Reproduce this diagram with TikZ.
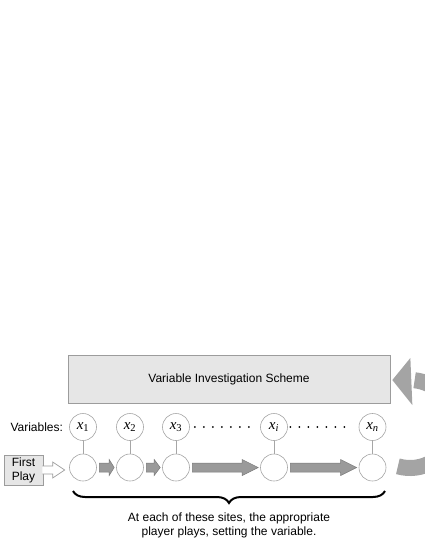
\documentclass[tikz,border=0pt]{standalone}
\usepackage{fontspec}
\setmainfont{Liberation Sans}
\newfontfamily\varfont{Liberation Serif}
\usepackage{xcolor}
\usetikzlibrary{calc,positioning,decorations.pathreplacing}

\definecolor{boxfill}{HTML}{E6E6E6}
\definecolor{boxline}{HTML}{9C9C9C}
\definecolor{siteline}{HTML}{A6A6A6}
\definecolor{flowfill}{HTML}{9A9A9A}
\definecolor{flowline}{HTML}{7A7A7A}
\definecolor{backfill}{HTML}{A4A4A4}

\newcommand{\varx}[1]{{\varfont\itshape x}{\varfont\textsubscript{#1}}}

\newcommand{\flow}[3]{%
	\draw[flow] let \p1=($(#1.east)+(2.5,0)$), \p2=($(#2.west)+(-2,0)$) in
		(\x1,\y1+4.5pt) -- (\x2-#3,\y1+4.5pt) -- (\x2-#3,\y1+8pt) -- (\x2,\y1)
		-- (\x2-#3,\y1-8pt) -- (\x2-#3,\y1-4.5pt) -- (\x1,\y1-4.5pt) -- cycle;}

\tikzset{
	every node/.style={font=\fontsize{12}{14}\selectfont},
	scheme/.style={draw=boxline, fill=boxfill, line width=0.7pt, minimum width=322pt, minimum height=48pt, inner sep=0pt},
	firstbox/.style={draw=boxline, fill=boxfill, line width=0.7pt, minimum width=39pt, minimum height=30pt, inner sep=0pt, align=center},
	site/.style={circle, draw=siteline, fill=white, line width=0.6pt, minimum size=27pt, inner sep=0pt, font=\fontsize{15}{18}\selectfont},
	link/.style={draw=siteline, line width=0.6pt},
	flow/.style={fill=flowfill, draw=flowline, line width=0.5pt},
	entry/.style={fill=white, draw=boxline, line width=0.7pt},
	sitebrace/.style={decorate, decoration={brace, mirror, amplitude=12pt}, line width=2pt},
	backarc/.style={draw=backfill, line width=16pt}
}

\begin{document}
\begin{tikzpicture}[x=1pt,y=-1pt]
	\useasboundingbox (0,0) rectangle (425,550);
	\clip (0,0) rectangle (425,550);

	\node[scheme] (scheme) at (229,379) {Variable Investigation Scheme};

	\foreach \name/\sub/\xpos in {1/1/83, 2/2/130, 3/3/176, i/\textit{i}/274, n/\textit{n}/372.5} {
		\node[site] (var\name) at (\xpos,427) {\varx{\sub}};
		\node[site] (site\name) at (\xpos,467.5) {};
		\draw[link] (var\name) -- (site\name);
	}
	\node[left=6pt of var1, inner sep=0pt] (varlabel) {Variables:};

	\foreach \k in {0,...,6} {
		\fill ($(var3.east)+(5+9*\k,0)$) circle (1pt);
		\fill ($(vari.east)+(2.5+9*\k,0)$) circle (1pt);
	}

	\flow{site1}{site2}{5pt}
	\flow{site2}{site3}{6pt}
	\flow{site3}{sitei}{16pt}
	\flow{sitei}{siten}{16pt}

	\node[firstbox] (first) at (23.5,470) {First\\Play};
	\draw[entry] let \p1=(first.east), \p2=($(site1.west)+(-4.5,0)$) in
		(\x1-1pt,\y1+4pt) -- (\x2-12pt,\y1+4pt) -- (\x2-12pt,\y1+8pt) -- (\x2,\y1)
		-- (\x2-12pt,\y1-8pt) -- (\x2-12pt,\y1-4pt) -- (\x1-1pt,\y1-4pt);

	\coordinate (bracel) at (73,491);
	\coordinate (bracer) at (385,491);
	\draw[sitebrace] (bracel) -- (bracer);
	\node[align=center] (caption) at (229,525) {At each of these sites, the appropriate\\player plays, setting the variable.};

	% way back to the scheme
	\coordinate (backc) at (410,424);
	\coordinate (backtip) at ($(scheme.east)+(2,1)$);
	\draw[backarc] ($(backc)+(106:44)$) arc[start angle=106, end angle=-84, radius=44];
	\fill[backfill] (backtip) -- ++(18,-22) -- ++(2,47) -- cycle;
\end{tikzpicture}
\end{document}
